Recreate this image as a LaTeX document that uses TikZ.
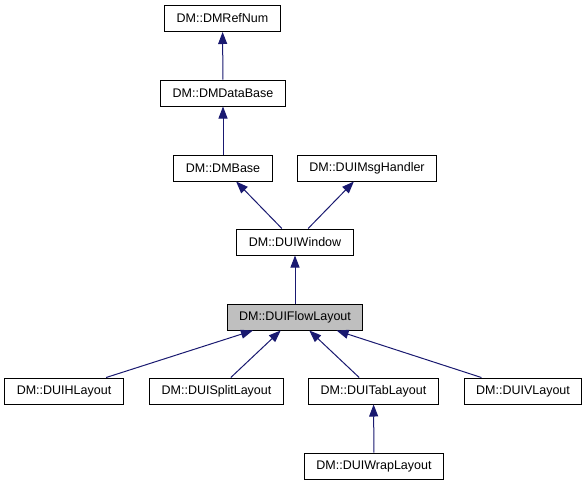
\documentclass[tikz,border=0pt]{standalone}
\usepackage{fontspec}
\setmainfont{Liberation Sans}
\usetikzlibrary{arrows.meta}
\definecolor{edgeblue}{HTML}{191970}
\tikzset{
  % The 'cls' style is one class box of the inheritance graph
  cls/.style={draw=black, fill=white, line width=1pt, minimum height=26pt, inner xsep=12pt, font=\fontsize{12.5}{15}\selectfont},
  % The 'current' style marks the class the graph is about, grey filled
  current/.style={cls, fill=black!25},
  % The 'inherit' style is the navy line with a filled head at the base class
  inherit/.style={draw=edgeblue, line width=1pt, -{Triangle[length=12pt, width=9pt]}}
}
\begin{document}
\begin{tikzpicture}[x=1pt, y=-1pt]
  \useasboundingbox (0,0) rectangle (588,485);

  % Base classes on top
  \node[cls] at (222.5,18.5) (refnum) {DM::DMRefNum};
  \node[cls] at (223,93) (database) {DM::DMDataBase};
  \node[cls] at (223,168) (dmbase) {DM::DMBase};
  \node[cls] at (367,168) (msghandler) {DM::DUIMsgHandler};
  \node[cls] at (295,242) (window) {DM::DUIWindow};

  % The class itself
  \node[current] at (295,317) (flow) {DM::DUIFlowLayout};

  % Derived classes below
  \node[cls] at (64,391) (hlayout) {DM::DUIHLayout};
  \node[cls] at (216.5,391) (split) {DM::DUISplitLayout};
  \node[cls] at (373.5,391) (tab) {DM::DUITabLayout};
  \node[cls] at (523,391) (vlayout) {DM::DUIVLayout};
  \node[cls] at (374,466) (wrap) {DM::DUIWrapLayout};

  % Inheritance arrows, child to parent
  \draw[inherit] (database) -- (refnum);
  \draw[inherit] (dmbase) -- (database);
  \draw[inherit] (window) -- (dmbase);
  \draw[inherit] (window) -- (msghandler);
  \draw[inherit] (flow) -- (window);
  \draw[inherit] (hlayout) -- (flow);
  \draw[inherit] (split) -- (flow);
  \draw[inherit] (tab) -- (flow);
  \draw[inherit] (vlayout) -- (flow);
  \draw[inherit] (wrap) -- (tab);

\end{tikzpicture}
\end{document}
